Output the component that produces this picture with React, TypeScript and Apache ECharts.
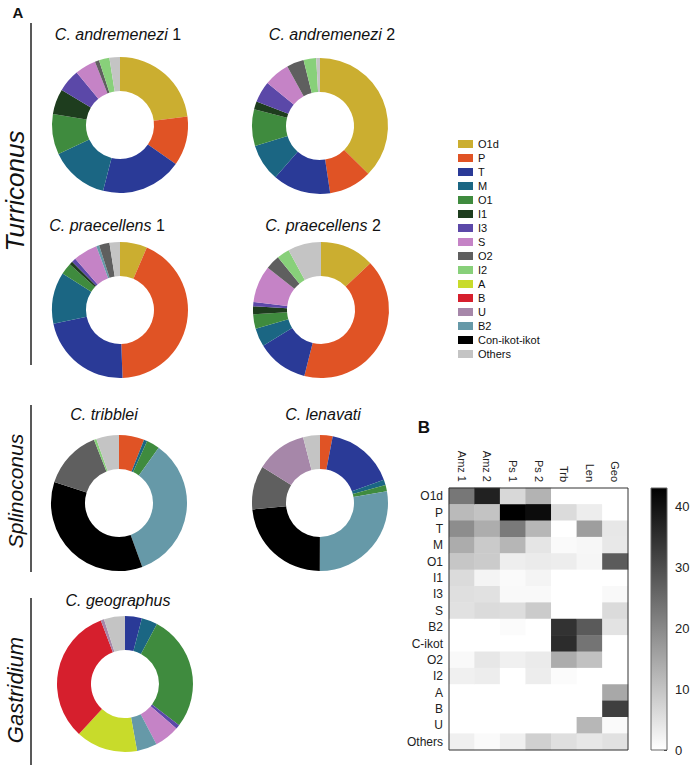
import React, { useEffect, useRef } from 'react';
import * as echarts from 'echarts';

// legend order
const categories = ['O1d', 'P', 'T', 'M', 'O1', 'I1', 'I3', 'S', 'O2', 'I2', 'A', 'B', 'U', 'B2', 'Con-ikot-ikot', 'Others'];
const categoryColors = ['#CBAE30', '#E05325', '#2A3A97', '#1B6683', '#3F8B3E', '#1E3D1E', '#5B48A8', '#C583C6', '#5F5F5F', '#88D07A', '#C8DB2B', '#D61F2D', '#A687A9', '#6699A8', '#000000', '#C4C4C4'];
// clockwise order of slices in each donut
const pieOrder = ['O1d', 'P', 'T', 'M', 'O1', 'I1', 'I3', 'S', 'B2', 'A', 'B', 'Con-ikot-ikot', 'O2', 'I2', 'U', 'Others'];
// heatmap rows
const heatRows = ['O1d', 'P', 'T', 'M', 'O1', 'I1', 'I3', 'S', 'B2', 'Con-ikot-ikot', 'O2', 'I2', 'A', 'B', 'U', 'Others'];
const heatRowLabels = ['O1d', 'P', 'T', 'M', 'O1', 'I1', 'I3', 'S', 'B2', 'C-ikot', 'O2', 'I2', 'A', 'B', 'U', 'Others'];
const heatCols = ['Amz 1', 'Amz 2', 'Ps 1', 'Ps 2', 'Trb', 'Len', 'Geo'];
const colorbarTicks = [0, 10, 20, 30, 40];

// percentages, in legend (categories) order:
//               O1d   P     T     M     O1   I1   I3   S    O2   I2   A     B     U     B2    CIK   Others
const andremenezi1 = [23, 11.7, 19.3, 14, 9.6, 6, 5.4, 5, 1, 2.5, 0, 0, 0, 0, 0, 2.5];
const andremenezi2 = [37.5, 10.2, 13.8, 8.9, 8.7, 1.9, 5.1, 6.1, 4.1, 3, 0, 0, 0, 0, 0, 0.9];
const praecellens1 = [6.5, 43.2, 22.5, 12.3, 2.8, 0.8, 1, 5.8, 2.5, 0, 0, 0, 0, 0.7, 0, 2.5];
const praecellens2 = [12.9, 41, 12.2, 4.4, 3.4, 1.9, 1, 8.8, 3.4, 3, 0, 0, 0, 0, 0, 7.9];
const tribblei = [0, 6, 0, 0.8, 3.1, 0, 0, 0, 14, 0.6, 0, 0, 0, 34.5, 35.5, 5.4];
const lenavati = [0, 3, 16.4, 1.3, 1.5, 0, 0, 0, 10.4, 0, 0, 0, 12.1, 27.8, 23.4, 4];
const geographus = [0, 0, 4, 3.8, 27.6, 0, 1, 6, 0, 0, 14.7, 32.4, 0.8, 4.8, 0, 5];

const speciesValues = [andremenezi1, andremenezi2, praecellens1, praecellens2, tribblei, lenavati, geographus];
const speciesItalic = ['C. andremenezi', 'C. andremenezi', 'C. praecellens', 'C. praecellens', 'C. tribblei', 'C. lenavati', 'C. geographus'];
const speciesSuffix = [' 1', ' 2', ' 1', ' 2', '', '', ''];

// layout (not data)
const pieCenters: [number, number][] = [[120, 125], [320, 126], [120, 310], [321, 310], [119, 503], [320, 503], [125, 684]];
const titlePos: [number, number][] = [[118, 34], [332, 34], [107, 225], [323, 225], [104, 414], [323, 414], [118, 600]];

const FONT = '"Liberation Sans", Arial, Helvetica, sans-serif';

export default function App() {
  const ref = useRef<HTMLDivElement>(null);
  useEffect(() => {
    if (!ref.current) return;
    const chart = echarts.init(ref.current, null, { renderer: 'svg' });

    const pieSeries = speciesValues.map((vals, si) => ({
      type: 'pie',
      radius: [34, 68],
      center: pieCenters[si],
      startAngle: 90,
      clockwise: true,
      silent: true,
      avoidLabelOverlap: false,
      label: { show: false },
      labelLine: { show: false },
      emphasis: { disabled: true },
      itemStyle: { borderWidth: 0 },
      data: pieOrder
        .map((name) => {
          const ci = categories.indexOf(name);
          return { name, value: vals[ci], itemStyle: { color: categoryColors[ci] } };
        })
        .filter((d) => d.value > 0),
    }));

    const heatData: [number, number, number][] = [];
    speciesValues.forEach((vals, xi) => {
      heatRows.forEach((name, yi) => {
        heatData.push([xi, yi, vals[categories.indexOf(name)]]);
      });
    });

    const titleGraphics = speciesItalic.map((it, i) => ({
      type: 'text',
      x: titlePos[i][0],
      y: titlePos[i][1],
      silent: true,
      style: {
        text: '{i|' + it + '}' + speciesSuffix[i],
        align: 'center',
        verticalAlign: 'middle',
        fontSize: 16,
        fontFamily: FONT,
        fill: '#111',
        rich: { i: { fontStyle: 'italic', fontSize: 16, fontFamily: FONT, fill: '#111' } },
      },
    }));

    const sideLabels = [
      { text: 'Turriconus', y: 191, size: 26, y1: 23, y2: 365 },
      { text: 'Splinoconus', y: 491, size: 21, y1: 405, y2: 572 },
      { text: 'Gastridium', y: 690, size: 22, y1: 598, y2: 765 },
    ];
    const sideGraphics: any[] = [];
    sideLabels.forEach((s) => {
      sideGraphics.push({
        type: 'text',
        x: 15,
        y: s.y,
        rotation: Math.PI / 2,
        silent: true,
        style: {
          text: s.text,
          align: 'center',
          verticalAlign: 'middle',
          fontSize: s.size,
          fontStyle: 'italic',
          fontFamily: FONT,
          fill: '#111',
        },
      });
      sideGraphics.push({
        type: 'line',
        silent: true,
        shape: { x1: 31, y1: s.y1, x2: 31, y2: s.y2 },
        style: { stroke: '#222', lineWidth: 1.5 },
      });
    });

    const option: any = {
      animation: false,
      backgroundColor: '#fff',
      legend: {
        orient: 'vertical',
        left: 458,
        top: 137,
        padding: 0,
        itemWidth: 15,
        itemHeight: 8,
        itemGap: 0,
        icon: 'rect',
        selectedMode: false,
        data: categories,
        textStyle: { fontSize: 11, lineHeight: 14, color: '#111', fontFamily: FONT },
      },
      grid: [
        { left: 449, top: 488, width: 179, height: 262, show: true, borderColor: '#333', borderWidth: 1, backgroundColor: 'transparent', z: 5 },
        { left: 651, top: 488, width: 16, height: 262, show: true, borderColor: '#666', borderWidth: 1, backgroundColor: 'transparent', z: 5 },
      ],
      xAxis: [
        {
          gridIndex: 0,
          type: 'category',
          data: heatCols,
          position: 'top',
          axisLine: { show: false },
          axisTick: { show: false },
          splitLine: { show: false },
          axisLabel: { rotate: 90, fontSize: 11, color: '#222', margin: 6, fontFamily: FONT },
        },
        { gridIndex: 1, type: 'category', data: [''], show: false },
      ],
      yAxis: [
        {
          gridIndex: 0,
          type: 'category',
          data: heatRowLabels,
          inverse: true,
          axisLine: { show: false },
          axisTick: { show: false },
          splitLine: { show: false },
          axisLabel: { fontSize: 12, color: '#222', margin: 6, fontFamily: FONT },
        },
        {
          gridIndex: 1,
          type: 'value',
          min: 0,
          max: 43,
          interval: 10,
          position: 'right',
          axisLine: { show: false },
          axisTick: { show: true, inside: true, length: 3, lineStyle: { color: '#333' } },
          splitLine: { show: false },
          axisLabel: {
            fontSize: 13,
            color: '#222',
            margin: 8,
            fontFamily: FONT,
            formatter: (v: number) => (colorbarTicks.includes(v) ? String(v) : ''),
          },
        },
      ],
      visualMap: {
        show: false,
        type: 'continuous',
        seriesIndex: 7,
        dimension: 2,
        min: 0,
        max: 43,
        inRange: { color: ['#ffffff', '#000000'] },
      },
      series: [
        ...pieSeries,
        {
          type: 'heatmap',
          xAxisIndex: 0,
          yAxisIndex: 0,
          data: heatData,
          silent: true,
          label: { show: false },
          emphasis: { disabled: true },
        },
        {
          type: 'bar',
          xAxisIndex: 1,
          yAxisIndex: 1,
          data: [43],
          barWidth: '100%',
          silent: true,
          itemStyle: {
            color: new echarts.graphic.LinearGradient(0, 0, 0, 1, [
              { offset: 0, color: '#000000' },
              { offset: 1, color: '#ffffff' },
            ]),
          },
        },
      ],
      graphic: [
        {
          type: 'text',
          x: 18,
          y: 12,
          silent: true,
          style: { text: 'A', align: 'center', verticalAlign: 'middle', fontSize: 15, fontWeight: 'bold', fontFamily: FONT, fill: '#111' },
        },
        {
          type: 'text',
          x: 424,
          y: 427,
          silent: true,
          style: { text: 'B', align: 'center', verticalAlign: 'middle', fontSize: 17, fontWeight: 'bold', fontFamily: FONT, fill: '#111' },
        },
        ...titleGraphics,
        ...sideGraphics,
      ],
    };

    chart.setOption(option);
    return () => chart.dispose();
  }, []);

  return <div ref={ref} style={{ position: 'absolute', left: 0, top: 0, width: 700, height: 772 }} />;
}
